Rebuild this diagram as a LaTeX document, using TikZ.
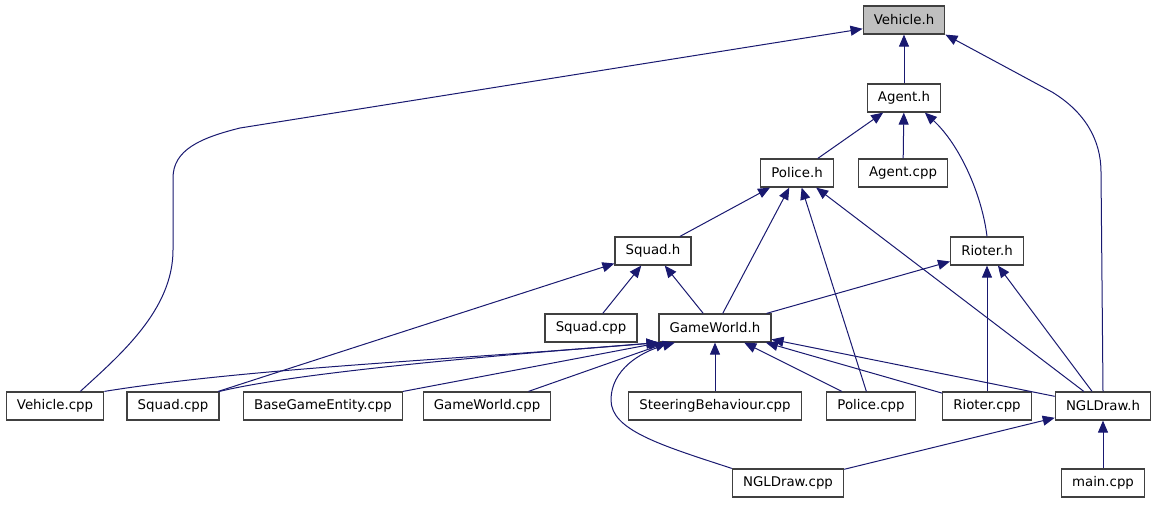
\documentclass[tikz,border=0pt]{standalone}
\usepackage{fontspec}
\setmainfont{DejaVu Sans}
\usepackage{xcolor}
\usetikzlibrary{arrows.meta}
\definecolor{edgeblue}{HTML}{191970}
\definecolor{hdrgray}{HTML}{BFBFBF}

\begin{document}
\begin{tikzpicture}[x=0.75pt, y=-0.75pt,
    srcbox/.style={draw=black!75, line width=0.9pt, minimum height=21pt, inner xsep=8pt, inner ysep=0pt, font=\fontsize{10pt}{12pt}\selectfont},
    incl/.style={draw=edgeblue, line width=0.75pt, -{Triangle[length=9pt, width=7.5pt]}}
]
    \useasboundingbox (0,0) rectangle (1157,504);

    % Headers
    \node[srcbox, fill=hdrgray] (vh) at (904,20) {Vehicle.h};
    \node[srcbox] (ah) at (904,98) {Agent.h};
    \node[srcbox] (ph) at (797,173) {Police.h};
    \node[srcbox] (acpp) at (903,173) {Agent.cpp};
    \node[srcbox] (sh) at (653,251) {Squad.h};
    \node[srcbox] (rh) at (987,251) {Rioter.h};
    \node[srcbox] (scpp) at (591,328) {Squad.cpp};
    \node[srcbox] (gw) at (715,328) {GameWorld.h};

    % Bottom row
    \node[srcbox] (vcpp) at (55,406) {Vehicle.cpp};
    \node[srcbox] (scppb) at (173,406) {Squad.cpp};
    \node[srcbox] (bge) at (323,406) {BaseGameEntity.cpp};
    \node[srcbox] (gwcpp) at (487,406) {GameWorld.cpp};
    \node[srcbox] (sbcpp) at (715,406) {SteeringBehaviour.cpp};
    \node[srcbox] (pcpp) at (871,406) {Police.cpp};
    \node[srcbox] (rcpp) at (987,406) {Rioter.cpp};
    \node[srcbox] (ngh) at (1103,406) {NGLDraw.h};
    \node[srcbox] (ngcpp) at (788,483) {NGLDraw.cpp};
    \node[srcbox] (mcpp) at (1103,483) {main.cpp};

    % Include edges
    \draw[incl] (ah) -- (vh);
    \draw[incl] (vcpp.30) .. controls (120,355) and (173,310) .. (173,250) -- (173,178)
        .. controls (173,150) and (200,138) .. (240,128) -- (vh.192);
    \draw[incl] (ngh.north) -- (1101,172) .. controls (1101,140) and (1085,112) .. (1052,92) -- (vh.south east);
    \draw[incl] (ph) -- (ah);
    \draw[incl] (acpp) -- (ah);
    \draw[incl] (rh.north) .. controls (982,195) and (960,145) .. (ah.-35);
    \draw[incl] (sh) -- (ph);
    \draw[incl] (gw) -- (ph);
    \draw[incl] (pcpp) -- (ph);
    \draw[incl] (ngh) -- (ph);
    \draw[incl] (scpp) -- (sh);
    \draw[incl] (gw) -- (sh);
    \draw[incl] (scppb) -- (sh);
    \draw[incl] (gw) -- (rh);
    \draw[incl] (rcpp) -- (rh);
    \draw[incl] (ngh) -- (rh);
    \draw[incl] (vcpp.north east) .. controls (250,368) and (450,360) .. (gw.south west);
    \draw[incl] (scppb.north east) .. controls (300,372) and (500,355) .. (gw.south west);
    \draw[incl] (bge.north east) -- (gw.-165);
    \draw[incl] (gwcpp) -- (gw.-163);
    \draw[incl] (sbcpp) -- (gw);
    \draw[incl] (pcpp) -- (gw);
    \draw[incl] (rcpp) -- (gw);
    \draw[incl] (ngh) -- (gw);
    \draw[incl] (ngcpp.north west) .. controls (660,445) and (611,430) .. (611,400)
        .. controls (611,370) and (640,352) .. (gw.-160);
    \draw[incl] (ngcpp) -- (ngh);
    \draw[incl] (mcpp) -- (ngh);
\end{tikzpicture}
\end{document}
